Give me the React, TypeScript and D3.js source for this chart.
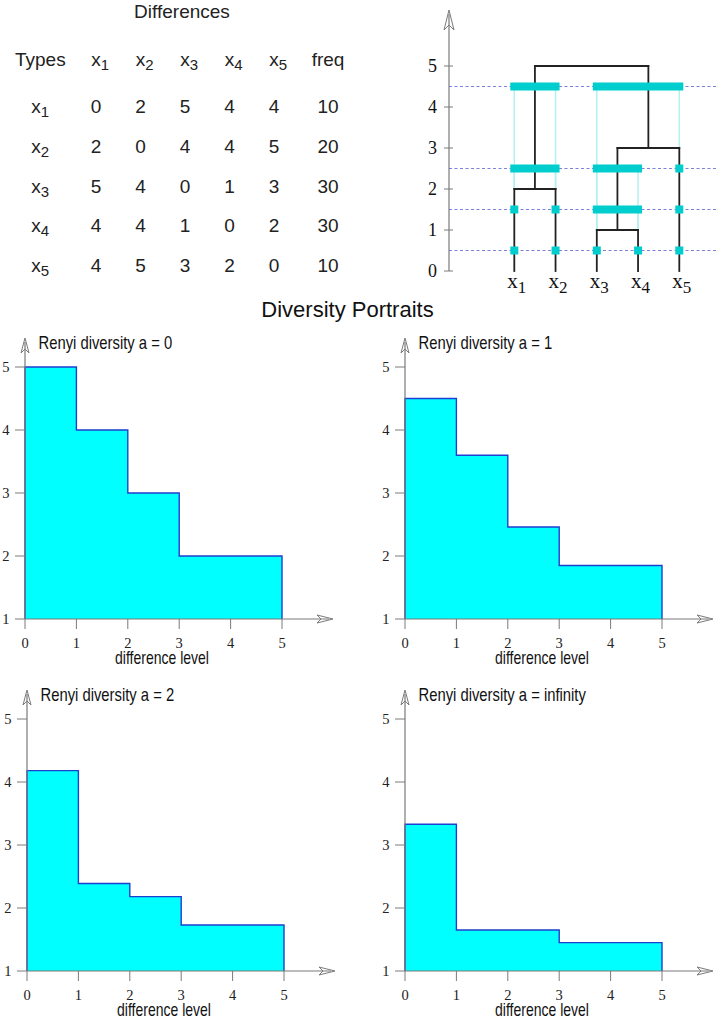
import React from 'react';
import * as d3 from 'd3';

// ---------- data ----------
const typeSubscripts = ['1', '2', '3', '4', '5'];
const differenceRows = [
  [0, 2, 5, 4, 4],
  [2, 0, 4, 4, 5],
  [5, 4, 0, 1, 3],
  [4, 4, 1, 0, 2],
  [4, 5, 3, 2, 0],
];
const freq = [10, 20, 30, 30, 10];

type TreeNode = { leaf?: string; height?: number; children?: TreeNode[] };
const dendroTree: TreeNode = {
  height: 5,
  children: [
    { height: 2, children: [{ leaf: '1' }, { leaf: '2' }] },
    {
      height: 3,
      children: [{ height: 1, children: [{ leaf: '3' }, { leaf: '4' }] }, { leaf: '5' }],
    },
  ],
};
const cutLevels = [0.5, 1.5, 2.5, 4.5];
const dendroTicks = [0, 1, 2, 3, 4, 5];

const diffLevels = [0, 1, 2, 3, 4, 5];
const renyiA0 = [5, 4, 3, 2, 2];
const renyiA1 = [4.5, 3.6, 2.46, 1.85, 1.85];
const renyiA2 = [4.18, 2.39, 2.18, 1.73, 1.73];
const renyiAInf = [3.33, 1.65, 1.65, 1.45, 1.45];
const panelTitles = [
  'Renyi diversity a = 0',
  'Renyi diversity a = 1',
  'Renyi diversity a = 2',
  'Renyi diversity a = infinity',
];
const xTicks = [0, 1, 2, 3, 4, 5];
const yTicks = [1, 2, 3, 4, 5];

// ---------- helpers ----------
const SANS = "'Liberation Sans', Arial, Helvetica, sans-serif";
const SERIF = "'Liberation Serif', 'Times New Roman', Times, serif";
const AXIS = '#7a7a7a';

function arrowUp(tx: number, ty: number, L: number, w: number, n: number) {
  return `M${tx},${ty} L${tx - w},${ty + L} L${tx},${ty + L - n} L${tx + w},${ty + L} Z`;
}
function arrowRight(tx: number, ty: number, L: number, w: number, n: number) {
  return `M${tx},${ty} L${tx - L},${ty - w} L${tx - L + n},${ty} L${tx - L},${ty + w} Z`;
}

function Panel({ x0, yB, values, title }: { x0: number; yB: number; values: number[]; title: string }) {
  const xs = d3.scaleLinear().domain([0, 5]).range([x0, x0 + 257]);
  const ys = d3.scaleLinear().domain([1, 5]).range([yB, yB - 252]);
  const pts: [number, number][] = diffLevels.map((l, i) => [l, values[Math.min(i, values.length - 1)]]);
  const area = d3
    .area<[number, number]>()
    .x((d) => xs(d[0]))
    .y0(ys(1))
    .y1((d) => ys(d[1]))
    .curve(d3.curveStepAfter);
  const line = d3
    .line<[number, number]>()
    .x((d) => xs(d[0]))
    .y((d) => ys(d[1]))
    .curve(d3.curveStepAfter);
  const outline: [number, number][] = [[0, 1], ...pts, [5, 1]];
  const yTip = yB - 281;
  const xTip = x0 + 308;
  return (
    <g>
      <path d={area(pts) || ''} fill="#00ffff" />
      <path d={line(outline) || ''} fill="none" stroke="#1f3fd0" strokeWidth={1.4} />
      {/* axes */}
      <line x1={x0} y1={yB} x2={x0} y2={yTip + 4} stroke={AXIS} strokeWidth={1.2} />
      <path d={arrowUp(x0, yTip, 15, 4, 4)} fill="none" stroke={AXIS} strokeWidth={1} />
      <line x1={x0} y1={yB} x2={xTip - 4} y2={yB} stroke={AXIS} strokeWidth={1.2} />
      <path d={arrowRight(xTip, yB, 16, 4, 4)} fill="none" stroke={AXIS} strokeWidth={1} />
      {yTicks.map((t) => (
        <g key={'y' + t}>
          <line x1={x0 - 10} x2={x0} y1={ys(t)} y2={ys(t)} stroke={AXIS} strokeWidth={1} />
          <text x={x0 - 15.5} y={ys(t)} dy="0.35em" textAnchor="end" fontFamily={SERIF} fontSize={14.5} fill="#222">
            {t}
          </text>
        </g>
      ))}
      {xTicks.map((t) => (
        <g key={'x' + t}>
          <line x1={xs(t)} x2={xs(t)} y1={yB} y2={yB + 10} stroke={AXIS} strokeWidth={1} />
          <text x={xs(t)} y={yB + 28.5} textAnchor="middle" fontFamily={SERIF} fontSize={14.5} fill="#222">
            {t}
          </text>
        </g>
      ))}
      <text
        transform={`translate(${x0 + 13.5},${yB - 270}) scale(0.8,1)`}
        fontFamily={SANS}
        fontSize={18.5}
        fill="#111"
      >
        {title}
      </text>
      <text
        transform={`translate(${x0 + 137},${yB + 45}) scale(0.8,1)`}
        textAnchor="middle"
        fontFamily={SANS}
        fontSize={17.5}
        fill="#111"
      >
        difference level
      </text>
    </g>
  );
}

function Table() {
  const colX = d3.scaleLinear().domain([0, 4]).range([96, 274]);
  const freqX = 328;
  const rowY = d3.scalePoint<string>().domain(typeSubscripts).range([113.3, 271.7]);
  const fs = 19;
  return (
    <g fontFamily={SANS} fontSize={fs} fill="#222">
      <text x={182} y={18} textAnchor="middle">Differences</text>
      <text x={15} y={66}>Types</text>
      {typeSubscripts.map((s, i) => (
        <text key={'h' + s} x={colX(i) - 4.75} y={66}>
          x<tspan fontSize={15} dy={4}>{s}</tspan>
        </text>
      ))}
      <text x={freqX} y={66} textAnchor="middle">freq</text>
      {typeSubscripts.map((s, r) => (
        <g key={'r' + s}>
          <text x={31.2} y={rowY(s)}>
            x<tspan fontSize={15} dy={4}>{s}</tspan>
          </text>
          {differenceRows[r].map((v, c) => (
            <text key={c} x={colX(c)} y={rowY(s)} textAnchor="middle">
              {v}
            </text>
          ))}
          <text x={freqX} y={rowY(s)} textAnchor="middle">
            {freq[r]}
          </text>
        </g>
      ))}
    </g>
  );
}

type Laid = { x: number; h: number; leaves: string[]; node: TreeNode; kids: Laid[] };

function Dendrogram() {
  const yD = d3.scaleLinear().domain([0, 5]).range([271, 66]);
  const xD = d3.scalePoint<string>().domain(typeSubscripts).range([514.3, 679.3]);
  const axisX = 449;

  const layout = (n: TreeNode): Laid => {
    if (n.leaf) return { x: xD(n.leaf)!, h: 0, leaves: [n.leaf], node: n, kids: [] };
    const kids = (n.children || []).map(layout);
    return {
      x: d3.mean(kids, (k) => k.x)!,
      h: n.height!,
      leaves: kids.flatMap((k) => k.leaves),
      node: n,
      kids,
    };
  };
  const root = layout(dendroTree);

  const segs: { x1: number; y1: number; x2: number; y2: number }[] = [];
  const leafMerge: Record<string, number> = {};
  const walk = (l: Laid) => {
    if (!l.kids.length) return;
    segs.push({ x1: l.kids[0].x, y1: yD(l.h), x2: l.kids[l.kids.length - 1].x, y2: yD(l.h) });
    l.kids.forEach((k) => {
      segs.push({ x1: k.x, y1: yD(k.h), x2: k.x, y2: yD(l.h) });
      if (!k.kids.length) leafMerge[k.leaves[0]] = l.h;
      walk(k);
    });
  };
  walk(root);

  const clustersAt = (l: Laid, L: number): string[][] =>
    !l.kids.length || l.h < L ? [l.leaves] : l.kids.flatMap((k) => clustersAt(k, L));

  const bars: { x: number; w: number; y: number }[] = [];
  const light: { x: number; y1: number; y2: number }[] = [];
  cutLevels.forEach((L) => {
    clustersAt(root, L).forEach((cl) => {
      const xsArr = cl.map((s) => xD(s)!);
      const mn = d3.min(xsArr)!;
      const mx = d3.max(xsArr)!;
      bars.push({ x: mn - 4, w: mx - mn + 8, y: yD(L) - 4 });
      if (cl.length > 1) {
        const first = cl[d3.minIndex(xsArr)];
        const last = cl[d3.maxIndex(xsArr)];
        [first, last].forEach((s) => light.push({ x: xD(s)!, y1: yD(L), y2: yD(leafMerge[s]) }));
      }
    });
  });

  return (
    <g>
      {cutLevels.map((L) => (
        <line
          key={'d' + L}
          x1={axisX}
          x2={716}
          y1={yD(L)}
          y2={yD(L)}
          stroke="#7f7fdc"
          strokeWidth={1.2}
          strokeDasharray="3,2.5"
        />
      ))}
      {light.map((l, i) => (
        <line key={'l' + i} x1={l.x} x2={l.x} y1={l.y1} y2={l.y2} stroke="#b4f0f0" strokeWidth={1.5} />
      ))}
      {segs.map((s, i) => (
        <line key={'s' + i} x1={s.x1} y1={s.y1} x2={s.x2} y2={s.y2} stroke="#222" strokeWidth={1.8} strokeLinecap="square" />
      ))}
      {bars.map((b, i) => (
        <rect key={'b' + i} x={b.x} y={b.y} width={b.w} height={8} fill="#00cdcd" />
      ))}
      {/* axis */}
      <line x1={axisX} x2={axisX} y1={yD(0)} y2={14} stroke={AXIS} strokeWidth={1.2} />
      <path d={arrowUp(axisX, 10, 20, 5, 5)} fill="none" stroke={AXIS} strokeWidth={1} />
      {dendroTicks.map((t) => (
        <g key={'t' + t}>
          <line x1={axisX - 5} x2={axisX + 4} y1={yD(t)} y2={yD(t)} stroke={AXIS} strokeWidth={1} />
          <text x={437} y={yD(t)} dy="0.35em" textAnchor="end" fontFamily={SERIF} fontSize={18} fill="#111">
            {t}
          </text>
        </g>
      ))}
      {typeSubscripts.map((s) => (
        <text key={'xl' + s} x={xD(s)! - 7} y={288} fontFamily={SERIF} fontSize={21} fill="#111">
          x<tspan fontSize={17} dy={5}>{s}</tspan>
        </text>
      ))}
    </g>
  );
}

export default function App() {
  const panels = [
    { x0: 25, yB: 619, values: renyiA0 },
    { x0: 405, yB: 619, values: renyiA1 },
    { x0: 27, yB: 971, values: renyiA2 },
    { x0: 405, yB: 971, values: renyiAInf },
  ];
  return (
    <svg
      width={716}
      height={1020}
      viewBox="0 0 716 1020"
      style={{ position: 'absolute', left: 0, top: 0, background: '#fff' }}
    >
      <rect x={0} y={0} width={716} height={1020} fill="#fff" />
      <Table />
      <Dendrogram />
      <text x={347.5} y={316.5} textAnchor="middle" fontFamily={SANS} fontSize={22} fill="#111">
        Diversity Portraits
      </text>
      {panels.map((p, i) => (
        <Panel key={i} x0={p.x0} yB={p.yB} values={p.values} title={panelTitles[i]} />
      ))}
    </svg>
  );
}
